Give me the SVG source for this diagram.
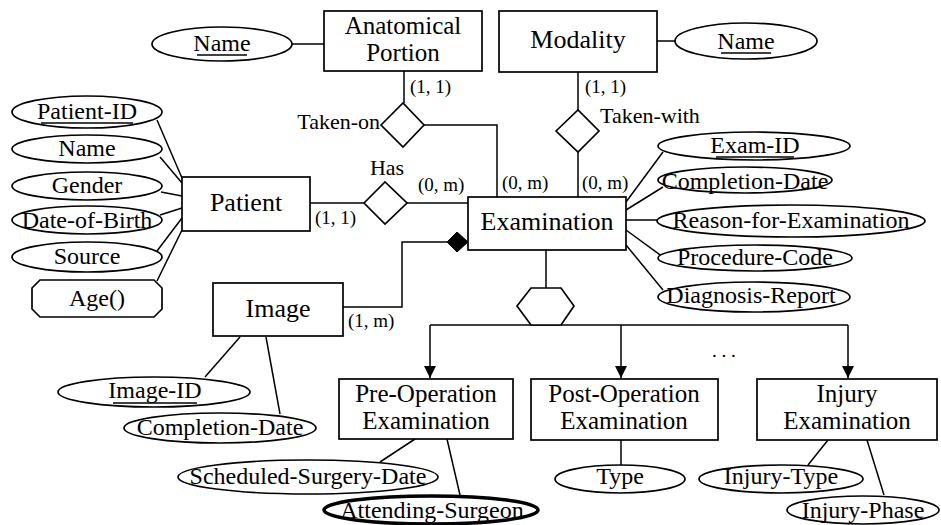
<svg xmlns="http://www.w3.org/2000/svg" width="941" height="525" viewBox="0 0 941 525" font-family="'Liberation Serif', 'Times New Roman', serif">
<style>
.s{fill:#fff;stroke:#000;stroke-width:1.7}
.l{fill:none;stroke:#000;stroke-width:1.5}
text{fill:#000;text-anchor:middle}
.e{font-size:26px}
.e2{font-size:25px}
.a{font-size:24px}
.r{font-size:22px}
.c{font-size:19px;text-anchor:start}
.u{stroke:#000;stroke-width:1.3}
</style>
<defs>
<marker id="arr" viewBox="0 0 12 20" refX="12" refY="10" markerWidth="12" markerHeight="20" markerUnits="userSpaceOnUse" orient="auto">
<path d="M0,4 L12,10 L0,16 Z" fill="#000"/>
</marker>
</defs>
<g id="connectors">
<line class="l" x1="292" y1="44" x2="324" y2="44"/>
<line class="l" x1="657" y1="41" x2="675" y2="41"/>
<line class="l" x1="404" y1="71" x2="404" y2="103"/>
<polyline class="l" points="424,125 497,125 497,197"/>
<line class="l" x1="578" y1="72" x2="578" y2="110"/>
<line class="l" x1="578" y1="152" x2="578" y2="197"/>
<line class="l" x1="310" y1="203" x2="364" y2="203"/>
<line class="l" x1="407" y1="203" x2="468" y2="203"/>
<polyline class="l" points="343,307 402,307 402,242 447,242"/>
<line class="l" x1="157" y1="120" x2="182" y2="178"/>
<line class="l" x1="160" y1="157" x2="182" y2="183"/>
<line class="l" x1="161" y1="192" x2="182" y2="196"/>
<line class="l" x1="160" y1="215" x2="182" y2="208"/>
<line class="l" x1="157" y1="251" x2="182" y2="218"/>
<line class="l" x1="157" y1="281" x2="182" y2="230"/>
<line class="l" x1="626" y1="202" x2="663" y2="152"/>
<line class="l" x1="626" y1="210" x2="663" y2="187"/>
<line class="l" x1="626" y1="220" x2="657" y2="220"/>
<line class="l" x1="626" y1="230" x2="663" y2="257"/>
<line class="l" x1="626" y1="245" x2="663" y2="290"/>
<line class="l" x1="240" y1="337" x2="205" y2="377"/>
<line class="l" x1="266" y1="337" x2="280" y2="414"/>
<line class="l" x1="546" y1="250" x2="546" y2="288"/>
<line class="l" x1="430" y1="325" x2="848" y2="325"/>
<line class="l" x1="430" y1="325" x2="430" y2="378" marker-end="url(#arr)"/>
<line class="l" x1="621" y1="325" x2="621" y2="378" marker-end="url(#arr)"/>
<line class="l" x1="848" y1="325" x2="848" y2="378" marker-end="url(#arr)"/>
<line class="l" x1="415" y1="439" x2="380" y2="462"/>
<line class="l" x1="447" y1="439" x2="460" y2="495"/>
<line class="l" x1="621" y1="440" x2="621" y2="465"/>
<line class="l" x1="828" y1="440" x2="808" y2="465"/>
<line class="l" x1="867" y1="440" x2="884" y2="495"/>
</g>
<g id="anatomical-portion"><rect class="s" x="324" y="11" width="158" height="60"/><text class="e2" x="403" y="34">Anatomical</text><text class="e2" x="403" y="61">Portion</text></g>
<g id="anatomical-name"><ellipse class="s" cx="222" cy="44" rx="70" ry="17"/><text class="a" x="222" y="51">Name</text><line class="u" x1="197" y1="55" x2="247" y2="55"/></g>
<g id="modality"><rect class="s" x="499" y="11" width="158" height="61"/><text class="e" x="578" y="48">Modality</text></g>
<g id="modality-name"><ellipse class="s" cx="746" cy="41" rx="71" ry="18"/><text class="a" x="746" y="49">Name</text><line class="u" x1="721" y1="53" x2="771" y2="53"/></g>
<g id="taken-on"><polygon class="s" points="381,125 403,103 424,125 403,147"/><text class="r" x="380" y="129" style="text-anchor:end">Taken-on</text></g>
<g id="taken-with"><polygon class="s" points="556,131 578,110 599,131 578,152"/><text class="r" x="600" y="123" style="text-anchor:start">Taken-with</text></g>
<g id="has"><polygon class="s" points="364,203 385,182 407,203 385,224"/><text class="r" x="387" y="175">Has</text></g>
<g id="patient"><rect class="s" x="182" y="177" width="128" height="54"/><text class="e" x="246" y="211">Patient</text></g>
<g id="patient-id"><ellipse class="s" cx="87" cy="112" rx="75" ry="16"/><text class="a" x="87" y="119">Patient-ID</text><line class="u" x1="41" y1="123" x2="133" y2="123"/></g>
<g id="patient-name"><ellipse class="s" cx="87" cy="149" rx="75" ry="14"/><text class="a" x="87" y="156">Name</text></g>
<g id="gender"><ellipse class="s" cx="87" cy="186" rx="75" ry="14"/><text class="a" x="87" y="193">Gender</text></g>
<g id="date-of-birth"><ellipse class="s" cx="87" cy="220" rx="75" ry="14"/><text class="a" x="87" y="228">Date-of-Birth</text></g>
<g id="source"><ellipse class="s" cx="87" cy="257" rx="75" ry="15"/><text class="a" x="87" y="264">Source</text></g>
<g id="age"><polygon class="s" points="40,280 154,280 162,288 162,309 154,317 40,317 32,309 32,288"/><text class="a" x="97" y="306">Age()</text></g>
<g id="examination"><rect class="s" x="468" y="197" width="158" height="53"/><text class="e" x="547" y="230">Examination</text><polygon points="447,242 457,232 468,242 457,252" fill="#000" stroke="#000" stroke-width="1"/></g>
<g id="exam-id"><ellipse class="s" cx="754" cy="146" rx="96" ry="14"/><text class="a" x="755" y="153">Exam-ID</text><line class="u" x1="716" y1="157" x2="794" y2="157"/></g>
<g id="exam-completion-date"><ellipse class="s" cx="745" cy="180" rx="87" ry="13"/><text class="a" x="745" y="189">Completion-Date</text></g>
<g id="reason"><ellipse class="s" cx="791" cy="221" rx="134" ry="16"/><text class="a" x="791" y="228">Reason-for-Examination</text></g>
<g id="procedure-code"><ellipse class="s" cx="755" cy="258" rx="97" ry="13"/><text class="a" x="755" y="265">Procedure-Code</text></g>
<g id="diagnosis-report"><ellipse class="s" cx="754" cy="297" rx="96" ry="15"/><text class="a" x="751" y="303">Diagnosis-Report</text></g>
<g id="image"><rect class="s" x="213" y="283" width="130" height="53"/><text class="e" x="278" y="317">Image</text></g>
<g id="image-id"><ellipse class="s" cx="154" cy="392" rx="96" ry="15"/><text class="a" x="155" y="398">Image-ID</text><line class="u" x1="113" y1="403" x2="197" y2="403"/></g>
<g id="image-completion-date"><ellipse class="s" cx="220" cy="428" rx="96" ry="15"/><text class="a" x="220" y="435">Completion-Date</text></g>
<g id="isa"><polygon class="s" points="517,306 531,288 561,288 574,306 561,325 531,325"/></g>
<g id="pre-operation"><rect class="s" x="339" y="379" width="174" height="60"/><text class="e2" x="426" y="402">Pre-Operation</text><text class="e2" x="426" y="429">Examination</text></g>
<g id="scheduled-surgery-date"><ellipse class="s" cx="308" cy="477" rx="130" ry="17"/><text class="a" x="308" y="484">Scheduled-Surgery-Date</text></g>
<g id="attending-surgeon"><ellipse cx="431" cy="510" rx="107" ry="14" fill="#fff" stroke="#000" stroke-width="3.5"/><text class="a" x="432" y="518">Attending-Surgeon</text></g>
<g id="post-operation"><rect class="s" x="531" y="379" width="187" height="61"/><text class="e2" x="624" y="402">Post-Operation</text><text class="e2" x="624" y="429">Examination</text></g>
<g id="type"><ellipse class="s" cx="620" cy="479" rx="65" ry="14"/><text class="a" x="620" y="484">Type</text></g>
<g id="injury"><rect class="s" x="757" y="379" width="180" height="61"/><text class="e2" x="847" y="402">Injury</text><text class="e2" x="847" y="429">Examination</text></g>
<g id="injury-type"><ellipse class="s" cx="781" cy="479" rx="82" ry="14"/><text class="a" x="781" y="484">Injury-Type</text></g>
<g id="injury-phase"><ellipse class="s" cx="863" cy="510" rx="76" ry="14"/><text class="a" x="863" y="518">Injury-Phase</text></g>
<g id="labels">
<text class="c" x="410" y="93">(1, 1)</text>
<text class="c" x="585" y="93">(1, 1)</text>
<text class="c" x="418" y="191">(0, m)</text>
<text class="c" x="502" y="189">(0, m)</text>
<text class="c" x="582" y="189">(0, m)</text>
<text class="c" x="315" y="224">(1, 1)</text>
<text class="c" x="348" y="327">(1, m)</text>
<text class="c" x="712" y="357">. . .</text>
</g>
</svg>
